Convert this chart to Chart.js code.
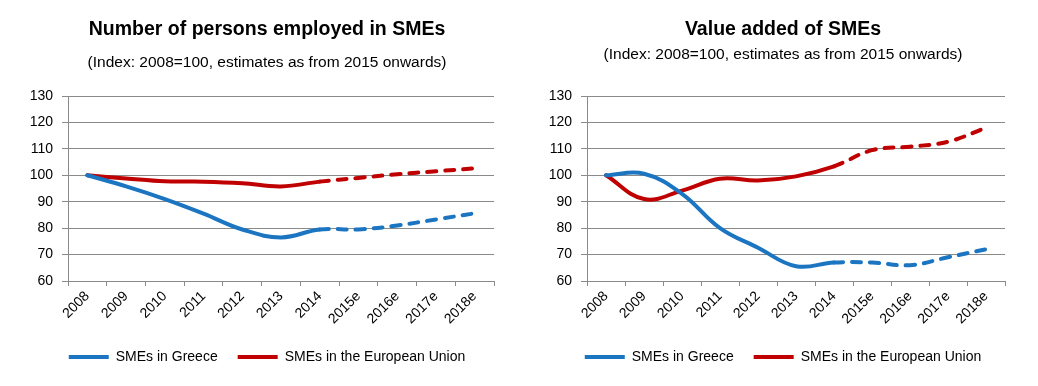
<!DOCTYPE html>
<html>
<head>
<meta charset="utf-8">
<script src="https://cdn.jsdelivr.net/npm/chart.js@4"></script>
<style>
  html, body { margin: 0; padding: 0; background: #ffffff; }
  body { width: 1038px; height: 386px; position: relative; overflow: hidden; }
  .box { position: absolute; top: 0; height: 386px; }
  #b1 { left: 0; width: 534px; }
  #b2 { left: 528px; width: 510px; }
</style>
</head>
<body>
<div class="box" id="b1"><canvas id="c1" width="534" height="386"></canvas></div>
<div class="box" id="b2"><canvas id="c2" width="510" height="386"></canvas></div>
<script>
// ---- data ----
const years = ['2008', '2009', '2010', '2011', '2012', '2013', '2014', '2015e', '2016e', '2017e', '2018e'];
const employedGreece = [100, 95.8, 91, 85.5, 79.5, 76.5, 79.5, 79.5, 81, 83.3, 85.6];
const employedEU = [100, 98.8, 97.7, 97.6, 97, 95.8, 97.6, 99, 100.4, 101.5, 102.6];
const valueAddedGreece = [100, 100.6, 93, 80, 72.6, 65.6, 67, 67, 66, 69, 72];
const valueAddedEU = [100, 91, 94.2, 98.7, 98, 99.6, 103.4, 109.5, 110.8, 112.7, 118];
const yTicks = [60, 70, 80, 90, 100, 110, 120, 130];
const seriesNames = ['SMEs in Greece', 'SMEs in the European Union'];
const titles = ['Number of persons employed in SMEs', 'Value added of SMEs'];
const subtitleText = '(Index: 2008=100, estimates as from 2015 onwards)';
const firstEstimateIndex = 7; // 2015e

// ---- styling ----
const FONT = 'Liberation Sans, Arial, sans-serif';
const BLUE = '#1b75c1';
const RED = '#c00000';
const GRID = '#8a8a8a';

function dataset(label, values, color) {
  return {
    label: label,
    data: values,
    borderColor: color,
    backgroundColor: color,
    borderWidth: 4,
    borderCapStyle: 'round',
    borderJoinStyle: 'round',
    pointRadius: 0,
    pointHoverRadius: 0,
    tension: 0.4,
    fill: false,
    segment: {
      borderDash: ctx => (ctx.p1DataIndex >= firstEstimateIndex ? [9, 9] : undefined)
    }
  };
}

function makeChart(id, title, greece, eu, opts) {
  return new Chart(document.getElementById(id), {
    type: 'line',
    data: {
      labels: years,
      datasets: [dataset(seriesNames[0], greece, BLUE), dataset(seriesNames[1], eu, RED)]
    },
    options: {
      responsive: false,
      animation: false,
      layout: { padding: { left: 0, right: 0, top: 0, bottom: opts.padBottom } },
      plugins: {
        tooltip: { enabled: false },
        title: {
          display: true,
          text: title,
          color: '#000',
          font: { family: FONT, size: 19.5, weight: 'bold', lineHeight: 1.2 },
          padding: { top: 18.3, bottom: 0 }
        },
        subtitle: {
          display: true,
          text: subtitleText,
          color: '#000',
          font: { family: FONT, size: 15.5, lineHeight: 1.2 },
          padding: { top: opts.subTop, bottom: opts.subBottom }
        },
        legend: {
          display: true,
          position: 'bottom',
          labels: {
            usePointStyle: true,
            pointStyle: 'line',
            pointStyleWidth: 40,
            color: '#000',
            font: { family: FONT, size: 14 },
            padding: 20
          }
        }
      },
      scales: {
        x: {
          offset: true,
          grid: { display: true, offset: true, drawOnChartArea: false, drawTicks: true, tickLength: 5, color: GRID },
          border: { display: true, color: GRID, width: 1 },
          ticks: { color: '#000', font: { family: FONT, size: 14 }, minRotation: 45, maxRotation: 45, padding: 2, autoSkip: false },
          afterFit: s => { s.height = opts.xHeight; }
        },
        y: {
          min: yTicks[0],
          max: yTicks[yTicks.length - 1],
          afterBuildTicks: s => { s.ticks = yTicks.map(v => ({ value: v })); },
          grid: { color: GRID, lineWidth: 1, drawTicks: true, tickLength: 6 },
          border: { display: true, color: GRID, width: 1 },
          ticks: { color: '#000', font: { family: FONT, size: 14 }, padding: 9 },
          afterFit: s => { s.width = opts.yWidth; }
        },
        spacer: {
          type: 'linear',
          position: 'right',
          display: true,
          grid: { display: false, drawTicks: false },
          border: { display: false },
          ticks: { display: false },
          afterFit: s => { s.width = opts.rightWidth; }
        }
      }
    }
  });
}

makeChart('c1', titles[0], employedGreece, employedEU,
  { padBottom: 12, subTop: 12, subBottom: 23.7, xHeight: 49, yWidth: 68, rightWidth: 40 });
makeChart('c2', titles[1], valueAddedGreece, valueAddedEU,
  { padBottom: 12, subTop: 4, subBottom: 31.7, xHeight: 49, yWidth: 59, rightWidth: 33 });
</script>
</body>
</html>
